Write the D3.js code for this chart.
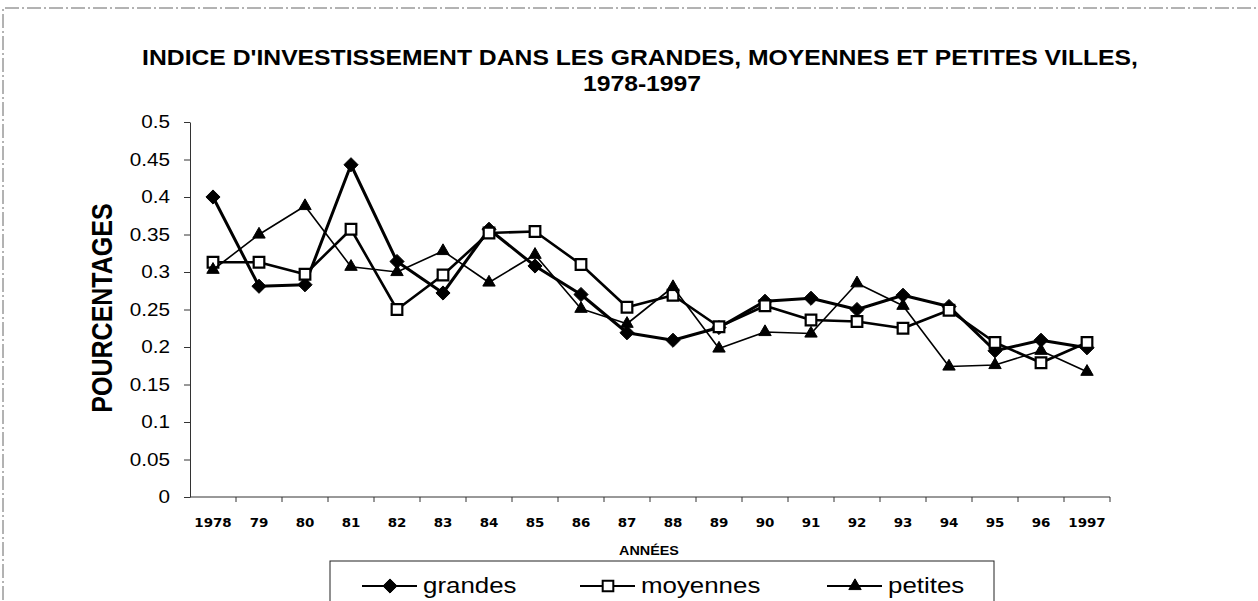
<!DOCTYPE html>
<head>
  <meta charset="utf-8">
  <title>Indice d'investissement 1978-1997</title>
  <script src="https://cdnjs.cloudflare.com/ajax/libs/d3/7.8.5/d3.min.js"></script>
  <style>
    body{ margin:0; background:#fff; }
    svg text{ font-family:"Liberation Sans", Arial, sans-serif; fill:#000; }
    .narrow{ font-family:"Liberation Sans Narrow","Arial Narrow","DejaVu Sans Condensed",sans-serif; }
  </style>
</head>
<body>
<div id="chart"></div>
<script>
// categories (x axis)
const annees = ['1978','79','80','81','82','83','84','85','86','87','88','89','90','91','92','93','94','95','96','1997'];
// series
const grandes  = [0.400,0.281,0.283,0.443,0.314,0.272,0.357,0.308,0.270,0.219,0.209,0.226,0.261,0.265,0.250,0.269,0.254,0.195,0.209,0.199];
const moyennes = [0.313,0.313,0.297,0.357,0.250,0.296,0.352,0.354,0.310,0.253,0.269,0.227,0.255,0.236,0.234,0.225,0.249,0.206,0.179,0.206];
const petites  = [0.303,0.350,0.388,0.307,0.300,0.328,0.286,0.323,0.251,0.231,0.280,0.198,0.220,0.218,0.285,0.255,0.174,0.176,0.195,0.167];
const yTicks = [0,0.05,0.1,0.15,0.2,0.25,0.3,0.35,0.4,0.45,0.5];
const seriesNames = ['grandes','moyennes','petites'];

const width = 1258, height = 601;
// the scanned picture is a little wider than tall, text gets stretched the same way
const SX = 1.15;

const svg = d3.select('#chart').append('svg')
  .attr('width', width)
  .attr('height', height);

// outer frame of the chart area (dashed like the scan)
svg.append('path')
  .attr('d', 'M3,600 V8 H1258')
  .attr('fill', 'none')
  .attr('stroke', '#666')
  .attr('stroke-width', 1)
  .attr('stroke-dasharray', '14,3,2,3');

const x = d3.scaleBand().domain(annees).range([190, 1110]).paddingInner(0).paddingOuter(0);
const y = d3.scaleLinear().domain([0, 0.5]).range([497, 122]);
const cx = d => x(d) + x.bandwidth() / 2;

// title
const title = svg.append('g').attr('font-weight', 'bold').attr('font-size', 21.5);
title.append('text')
  .attr('text-anchor', 'middle')
  .attr('transform', `translate(640,65) scale(${SX},1)`)
  .text("INDICE D'INVESTISSEMENT DANS LES GRANDES, MOYENNES ET PETITES VILLES,");
title.append('text')
  .attr('text-anchor', 'middle')
  .attr('transform', `translate(642,91) scale(${SX},1)`)
  .text('1978-1997');

// y axis
const yAxis = svg.append('g')
  .attr('transform', 'translate(190,0)')
  .call(d3.axisLeft(y).tickValues(yTicks).tickFormat(d => String(d)).tickSize(6).tickSizeOuter(0).tickPadding(11.4));
yAxis.select('.domain').attr('stroke', '#333');
yAxis.selectAll('.tick line').attr('stroke', '#333');
yAxis.selectAll('.tick text')
  .attr('font-size', 18)
  .attr('font-family', '"Liberation Sans", Arial, sans-serif')
  .attr('transform', `scale(${SX},1)`);

svg.append('text')
  .attr('text-anchor', 'middle')
  .attr('font-weight', 'bold')
  .attr('font-size', 25)
  .attr('transform', `translate(112,308) scale(${SX},1) rotate(-90)`)
  .text('POURCENTAGES');

// x axis : labels centred in the bands, ticks between the bands
const xAxis = svg.append('g')
  .attr('transform', 'translate(0,497)')
  .call(d3.axisBottom(x).tickSize(0).tickPadding(30));
xAxis.select('.domain').remove();
xAxis.selectAll('.tick text')
  .attr('class', 'narrow')
  .attr('font-size', 13)
  .attr('font-weight', 'bold')
  .attr('dy', 0)
  .attr('transform', `scale(${SX},1)`);
svg.append('line')
  .attr('x1', 190).attr('x2', 1110)
  .attr('y1', 497).attr('y2', 497)
  .attr('stroke', '#333');
svg.append('g').selectAll('line')
  .data(annees.slice(1).concat(['end']))
  .join('line')
  .attr('x1', d => d === 'end' ? 1110 : x(d))
  .attr('x2', d => d === 'end' ? 1110 : x(d))
  .attr('y1', 497).attr('y2', 502)
  .attr('stroke', '#333');

svg.append('text')
  .attr('text-anchor', 'middle')
  .attr('font-weight', 'bold')
  .attr('font-size', 12.5)
  .attr('transform', `translate(649,555) scale(${SX},1)`)
  .text('ANNÉES');

// markers
const diamond = d3.symbol().type(d3.symbolDiamond2).size(128);
const square = d3.symbol().type(d3.symbolSquare2).size(144);
const triangle = d3.symbol().type(d3.symbolTriangle2).size(110);

const series = [
  { name: 'grandes',  values: grandes,  width: 3,   sym: diamond,  fill: '#000' },
  { name: 'moyennes', values: moyennes, width: 2.6, sym: square,   fill: '#fff' },
  { name: 'petites',  values: petites,  width: 1.6, sym: triangle, fill: '#000' }
];

const line = d3.line().x(d => cx(d.a)).y(d => y(d.v));

series.forEach(s => {
  const pts = annees.map((a, i) => ({ a: a, v: s.values[i] }));
  const g = svg.append('g').attr('class', 'serie-' + s.name);
  g.append('path')
    .datum(pts)
    .attr('d', line)
    .attr('fill', 'none')
    .attr('stroke', '#000')
    .attr('stroke-width', s.width)
    .attr('stroke-linejoin', 'round');
  g.selectAll('path.mk')
    .data(pts)
    .join('path')
    .attr('class', 'mk')
    .attr('d', s.sym)
    .attr('transform', d => `translate(${cx(d.a)},${y(d.v)})`)
    .attr('fill', s.fill)
    .attr('stroke', '#000')
    .attr('stroke-width', s.name === 'moyennes' ? 2.2 : 1);
});

// legend
svg.append('rect')
  .attr('x', 330).attr('y', 561)
  .attr('width', 664).attr('height', 60)
  .attr('fill', '#fff')
  .attr('stroke', '#222');

const legendX = [362, 580, 827];
series.forEach((s, i) => {
  const lg = svg.append('g').attr('transform', `translate(${legendX[i]},586)`);
  lg.append('line')
    .attr('x1', 0).attr('x2', 55)
    .attr('stroke', '#000')
    .attr('stroke-width', 2.2);
  lg.append('path')
    .attr('d', s.sym)
    .attr('transform', 'translate(28,0)')
    .attr('fill', s.fill)
    .attr('stroke', '#000')
    .attr('stroke-width', s.name === 'moyennes' ? 2 : 1);
  lg.append('text')
    .attr('font-size', 22.5)
    .attr('transform', `translate(61,7) scale(${SX},1)`)
    .text(seriesNames[i]);
});
</script>
</body>
